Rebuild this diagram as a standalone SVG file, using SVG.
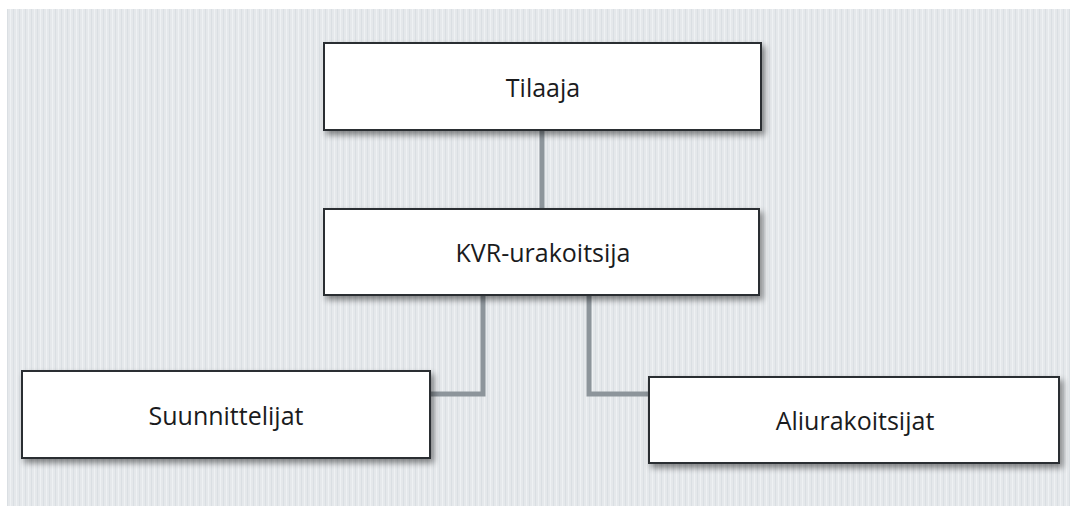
<svg xmlns="http://www.w3.org/2000/svg" width="1070" height="506" viewBox="0 0 1070 506">
  <defs>
    <pattern id="stripes" width="6" height="10" patternUnits="userSpaceOnUse">
      <rect width="6" height="10" fill="#e5e8eb"/>
      <rect x="1" width="1" height="10" fill="#dadfe3"/>
      <rect x="4" width="1" height="10" fill="#eef1f3"/>
    </pattern>
    <filter id="shadow" x="-5%" y="-10%" width="112%" height="130%">
      <feGaussianBlur in="SourceAlpha" stdDeviation="3"/>
      <feOffset dx="3" dy="4" result="b"/>
      <feComponentTransfer><feFuncA type="linear" slope="0.45"/></feComponentTransfer>
      <feMerge><feMergeNode/><feMergeNode in="SourceGraphic"/></feMerge>
    </filter>
    <style>
      .box { fill: #ffffff; stroke: #2a2d30; stroke-width: 2; filter: url(#shadow); }
      .lbl { font-family: "Open Sans", "Noto Sans", sans-serif; font-size: 25px; fill: #1a1b1d; text-anchor: middle; }
      .conn { fill: none; stroke: #8d959b; stroke-width: 5; }
    </style>
  </defs>
  <rect width="1070" height="506" fill="#ffffff"/>
  <rect x="7" y="9" width="1063" height="497" fill="url(#stripes)"/>

  <g id="connectors">
    <line class="conn" x1="542" y1="130" x2="542" y2="210"/>
    <polyline class="conn" points="483,294 483,394 430,394"/>
    <polyline class="conn" points="589,294 589,394 649,394"/>
  </g>

  <g id="tilaaja">
    <rect class="box" x="324" y="43" width="437" height="87"/>
    <text class="lbl" x="543" y="97">Tilaaja</text>
  </g>
  <g id="kvr">
    <rect class="box" x="324" y="209" width="435" height="86"/>
    <text class="lbl" x="543" y="262">KVR-urakoitsija</text>
  </g>
  <g id="suunnittelijat">
    <rect class="box" x="22" y="371" width="408" height="87"/>
    <text class="lbl" x="226" y="425">Suunnittelijat</text>
  </g>
  <g id="aliurakoitsijat">
    <rect class="box" x="649" y="377" width="410" height="86"/>
    <text class="lbl" x="855" y="430">Aliurakoitsijat</text>
  </g>
</svg>
